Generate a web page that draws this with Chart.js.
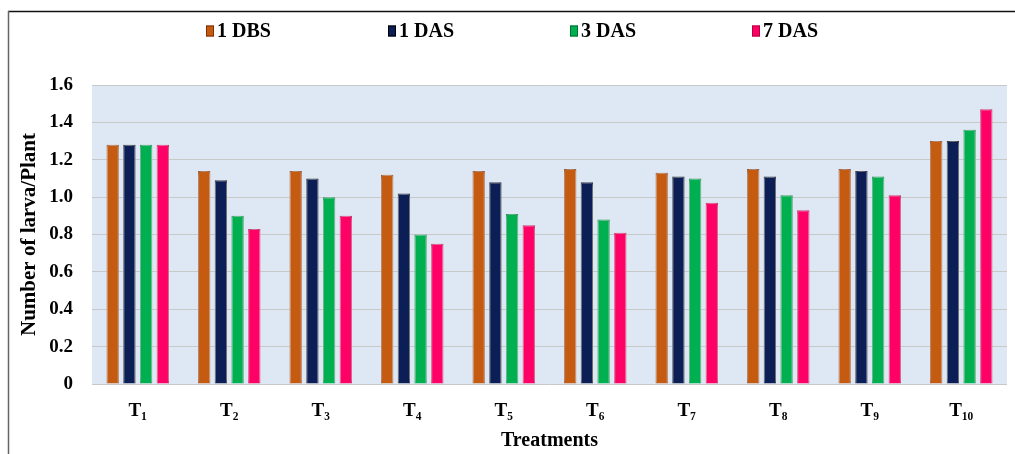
<!DOCTYPE html>
<html>
<head>
<meta charset="utf-8">
<script src="https://cdn.jsdelivr.net/npm/chart.js@4.4.1/dist/chart.umd.min.js"></script>
<style>
  html, body { margin: 0; padding: 0; background: #ffffff; }
  #wrap { width: 1015px; height: 454px; position: relative; }
</style>
</head>
<body>
<div id="wrap"><canvas id="chart" width="1015" height="454"></canvas></div>
<script>
// Larval counts per plant for each treatment and sampling time
const treatments = ['T\u2081', 'T\u2082', 'T\u2083', 'T\u2084', 'T\u2085', 'T\u2086', 'T\u2087', 'T\u2088', 'T\u2089', 'T\u2081\u2080'];
const seriesNames = ['1 DBS', '1 DAS', '3 DAS', '7 DAS'];
const dbs1 = [1.28, 1.14, 1.14, 1.12, 1.14, 1.15, 1.13, 1.15, 1.15, 1.30];
const das1 = [1.28, 1.09, 1.10, 1.02, 1.08, 1.08, 1.11, 1.11, 1.14, 1.30];
const das3 = [1.28, 0.90, 1.00, 0.80, 0.91, 0.88, 1.10, 1.01, 1.11, 1.36];
const das7 = [1.28, 0.83, 0.90, 0.75, 0.85, 0.81, 0.97, 0.93, 1.01, 1.47];
const yTicks = [0, 0.2, 0.4, 0.6, 0.8, 1, 1.2, 1.4, 1.6];

const fills = ['#c55a11', '#0b1e55', '#00b050', '#ff0066'];
const edges = ['#7f3208', '#000000', '#00712f', '#b3003f'];
const serif = '"Liberation Serif", "Times New Roman", serif';

// light blue plot background and page frame
const frame = {
  id: 'frame',
  beforeDraw(chart) {
    const { ctx, chartArea: a } = chart;
    ctx.save();
    ctx.fillStyle = '#dde8f4';
    ctx.fillRect(a.left, a.top, a.right - a.left, a.bottom - a.top);
    ctx.restore();
  },
  afterDraw(chart) {
    const ctx = chart.ctx;
    ctx.save();
    ctx.lineWidth = 1.5;
    ctx.strokeStyle = '#111111';
    ctx.beginPath();
    ctx.moveTo(8, 11.5);
    ctx.lineTo(chart.width, 11.5);
    ctx.stroke();
    ctx.strokeStyle = '#666666';
    ctx.beginPath();
    ctx.moveTo(8.5, 11);
    ctx.lineTo(8.5, chart.height);
    ctx.stroke();
    ctx.restore();
  }
};

// soft white halo round the bars
const halo = {
  id: 'halo',
  beforeDatasetsDraw(chart) {
    const ctx = chart.ctx;
    ctx.save();
    ctx.shadowColor = 'rgba(255,255,255,1)';
    ctx.shadowBlur = 5;
  },
  afterDatasetsDraw(chart) {
    chart.ctx.restore();
  }
};

// legend spread evenly across the top
const spreadLegend = {
  id: 'spreadLegend',
  afterDraw(chart) {
    const { ctx, chartArea: a } = chart;
    ctx.save();
    ctx.font = 'bold 20px ' + serif;
    ctx.textBaseline = 'middle';
    ctx.textAlign = 'left';
    chart.data.datasets.forEach((ds, i) => {
      const x = a.left + 114 + i * 182;
      const y = 31;
      ctx.fillStyle = ds.backgroundColor;
      ctx.fillRect(x, y - 5.5, 8, 11);
      ctx.strokeStyle = ds.borderColor;
      ctx.lineWidth = 1;
      ctx.strokeRect(x + 0.5, y - 5, 7, 10);
      ctx.fillStyle = '#000000';
      ctx.fillText(ds.label, x + 11, y + 1);
    });
    ctx.restore();
  }
};

const seriesValues = [dbs1, das1, das3, das7];

new Chart(document.getElementById('chart'), {
  type: 'bar',
  data: {
    labels: treatments,
    datasets: seriesNames.map((name, i) => ({
      label: name,
      data: seriesValues[i],
      backgroundColor: fills[i],
      borderColor: edges[i],
      borderWidth: 1,
      categoryPercentage: 0.73,
      barPercentage: 0.74
    }))
  },
  options: {
    responsive: false,
    animation: false,
    devicePixelRatio: 1,
    layout: { padding: { left: 8, right: 8, top: 85, bottom: 0 } },
    plugins: {
      legend: { display: false },
      tooltip: { enabled: false }
    },
    scales: {
      x: {
        grid: { display: false, drawTicks: false },
        border: { display: false },
        ticks: {
          color: '#000000',
          padding: 16,
          font: { family: serif, size: 19, weight: 'bold' }
        },
        title: {
          display: true,
          text: 'Treatments',
          color: '#000000',
          padding: { top: 0, bottom: 1 },
          font: { family: serif, size: 20, weight: 'bold' }
        },
        afterFit(scale) { scale.height = 70; }
      },
      y: {
        min: 0,
        max: 1.6,
        afterBuildTicks(scale) { scale.ticks = yTicks.map(v => ({ value: v })); },
        grid: { color: '#c8c8c8', lineWidth: 1, drawTicks: false },
        border: { display: false },
        ticks: {
          color: '#000000',
          padding: 19,
          font: { family: serif, size: 19, weight: 'bold' }
        },
        title: {
          display: true,
          text: 'Number of larva/Plant',
          color: '#000000',
          padding: { top: 9, bottom: 0 },
          font: { family: serif, size: 21, weight: 'bold' }
        },
        afterFit(scale) { scale.width = 84; }
      }
    }
  },
  plugins: [frame, halo, spreadLegend]
});
</script>
</body>
</html>
